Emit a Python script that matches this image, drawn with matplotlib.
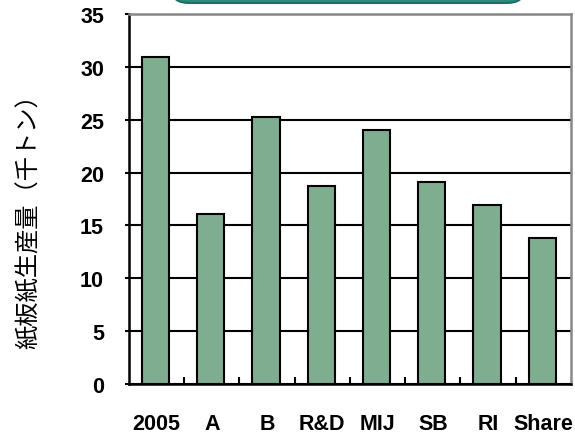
import matplotlib
matplotlib.use("Agg")
import matplotlib.pyplot as plt
from matplotlib.patches import FancyBboxPatch
import numpy as np

# data
categories = ["2005", "A", "B", "R&D", "MIJ", "SB", "RI", "Share"]
values = [30.9, 16.1, 25.3, 18.7, 24.0, 19.1, 16.9, 13.8]
y_ticks = [0, 5, 10, 15, 20, 25, 30, 35]
y_label = "紙板紙生産量（千トン）"

fig = plt.figure(figsize=(5.75, 4.35), dpi=100)
ax = fig.add_axes([0.2243, 0.115, 0.7687, 0.8505])

x = np.arange(len(categories))
ax.bar(x - 0.02, values, width=0.49, color="#7FAD8F", edgecolor="black",
       linewidth=1.5, zorder=3)

# gridlines
ax.set_ylim(0, 35)
ax.set_xlim(-0.5, len(categories) - 0.5)
ax.set_yticks(y_ticks)
ax.set_yticklabels([str(t) for t in y_ticks], fontweight="bold", fontsize=15.5,
                   family="Liberation Sans")
ax.yaxis.grid(True, color="black", linewidth=1.5, zorder=1)
ax.set_axisbelow(True)
ax.tick_params(axis="y", direction="out", length=3, width=1.5, pad=15)

# category labels + separator ticks on x axis
ax.set_xticks(x)
ax.set_xticklabels(categories, fontweight="bold", fontsize=15.5,
                   family="Liberation Sans")
ax.tick_params(axis="x", which="major", length=0, pad=21)
ax.set_xticks(np.arange(0.5, len(categories) - 0.5, 1.0), minor=True)
ax.tick_params(axis="x", which="minor", direction="in", length=5, width=1.5)

for side in ["left", "bottom"]:
    ax.spines[side].set_color("black")
    ax.spines[side].set_linewidth(1.8)
for side in ["top", "right"]:
    ax.spines[side].set_color("#888888")
    ax.spines[side].set_linewidth(1.8)

# y label placed by hand so it sits where the original does
fig.text(29 / 575, 1 - 216 / 435, y_label, rotation=90, ha="center",
         va="center", fontsize=17.5, family=["Noto Sans CJK JP", "DejaVu Sans"])

# the teal rounded box cut off at the top of the image
box = FancyBboxPatch((172 / 575, 1 - 4 / 435), 352 / 575, 0.06,
                     boxstyle="round,pad=0,rounding_size=0.03",
                     transform=fig.transFigure, facecolor="#2F8A7E",
                     edgecolor="#1F6E64", linewidth=1.5, clip_on=False)
fig.patches.append(box)

fig.savefig("out.png", dpi=100)
